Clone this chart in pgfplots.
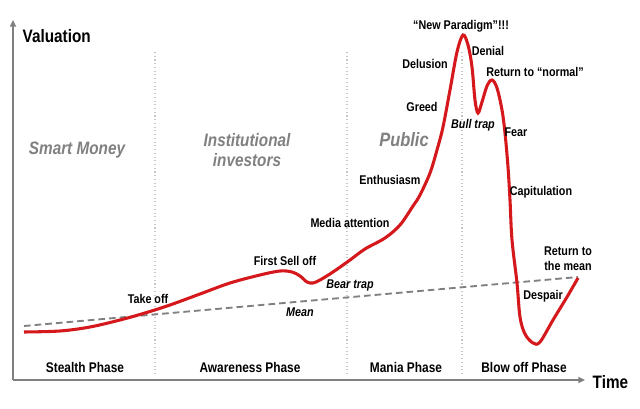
\documentclass[border=0pt]{standalone}
\usepackage{pgfplots}
\pgfplotsset{compat=1.18}
\usepackage{fontspec}
\setmainfont{Liberation Sans}[FakeStretch=0.85]
\usetikzlibrary{arrows.meta}
\definecolor{curvered}{HTML}{D4181C}
\definecolor{lblgray}{HTML}{808080}
\begin{document}
\begin{tikzpicture}
\begin{axis}[
  scale only axis, width=480pt, height=306.75pt,
  xmin=0, xmax=640, ymin=0, ymax=409, y dir=reverse,
  hide axis, clip=false,
]
\path (axis cs:0,0) (axis cs:640,409);
% phase dividers
\draw[dotted, gray!45, line width=0.8pt] (axis cs:155,52) -- (axis cs:155,376);
\draw[dotted, gray!45, line width=0.8pt] (axis cs:347,52) -- (axis cs:347,376);
\draw[dotted, gray!45, line width=0.8pt] (axis cs:462,52) -- (axis cs:462,376);
% axes
\draw[lblgray, line width=1.5pt, -{Triangle[length=5pt,width=4.5pt]}] (axis cs:13,380) -- (axis cs:13,20);
\draw[lblgray, line width=1.5pt, -{Triangle[length=5pt,width=4.5pt]}] (axis cs:13,380) -- (axis cs:585,380);
% mean
\addplot[lblgray, line width=1.4pt, dash pattern=on 5pt off 3pt] coordinates {(24,326) (578,277)};
% curve
\addplot[curvered, line width=2.3pt, smooth, tension=0.55] coordinates {
(24,332) (60,331) (90,327) (120,320) (145,313) (170,305) (200,294) (230,283) (260,275) (280,271) (292,272) (300,276) (307,282) (313,283) (320,280) (333,272) (350,260) (365,249) (385,238) (400,225) (413,206) (420,195) (430,173) (437,150) (443,127) (450,90) (457,52) (463,35) (468,45) (472,67) (475,100) (478,113) (482,102) (487,86) (492,80) (497,88) (502,110) (505,133) (508,167) (510,200) (512,240) (517,283) (520,317) (525,334) (533,343) (540,342) (553,320) (567,297) (578,278)};
% axis titles
\node[font=\fontsize{13.5}{15}\selectfont\bfseries, anchor=west] at (axis cs:18,36) {Valuation};
\node[font=\fontsize{13.5}{15}\selectfont\bfseries, anchor=west] at (axis cs:588,382) {Time};
% group labels
\node[font=\fontsize{13.5}{15}\selectfont\bfseries\itshape, text=lblgray] at (axis cs:77,150) {Smart Money};
\node[font=\fontsize{13.5}{15.5}\selectfont\bfseries\itshape, text=lblgray, align=center] at (axis cs:247,150) {Institutional\\investors};
\node[font=\fontsize{14.5}{16}\selectfont\bfseries\itshape, text=lblgray] at (axis cs:404,140) {Public};
% phases
\node[font=\fontsize{10.5}{12}\selectfont\bfseries] at (axis cs:85,367) {Stealth Phase};
\node[font=\fontsize{10.5}{12}\selectfont\bfseries] at (axis cs:250,367) {Awareness Phase};
\node[font=\fontsize{10.5}{12}\selectfont\bfseries] at (axis cs:406,367) {Mania Phase};
\node[font=\fontsize{10.5}{12}\selectfont\bfseries] at (axis cs:524,367) {Blow off Phase};
% annotations
\tikzset{ann/.style={font=\fontsize{9.5}{11}\selectfont\bfseries, inner sep=0pt}}
\node[ann] at (axis cs:148,299) {Take off};
\node[ann] at (axis cs:285,261) {First Sell off};
\node[ann, font=\fontsize{9.5}{11}\selectfont\bfseries\itshape] at (axis cs:300,312) {Mean};
\node[ann] at (axis cs:350,223) {Media attention};
\node[ann, font=\fontsize{9.5}{11}\selectfont\bfseries\itshape] at (axis cs:350,285) {Bear trap};
\node[ann] at (axis cs:390,180) {Enthusiasm};
\node[ann] at (axis cs:422,107) {Greed};
\node[ann] at (axis cs:425,64) {Delusion};
\node[ann] at (axis cs:461,26) {“New Paradigm”!!!};
\node[ann] at (axis cs:488,51) {Denial};
\node[ann] at (axis cs:535,72) {Return to “normal”};
\node[ann, font=\fontsize{9.5}{11}\selectfont\bfseries\itshape] at (axis cs:473,125) {Bull trap};
\node[ann] at (axis cs:516,132) {Fear};
\node[ann] at (axis cs:541,192) {Capitulation};
\node[ann, align=center, font=\fontsize{9.5}{11.3}\selectfont\bfseries] at (axis cs:568,259) {Return to\\the mean};
\node[ann] at (axis cs:543,296) {Despair};
\end{axis}
\end{tikzpicture}
\end{document}
